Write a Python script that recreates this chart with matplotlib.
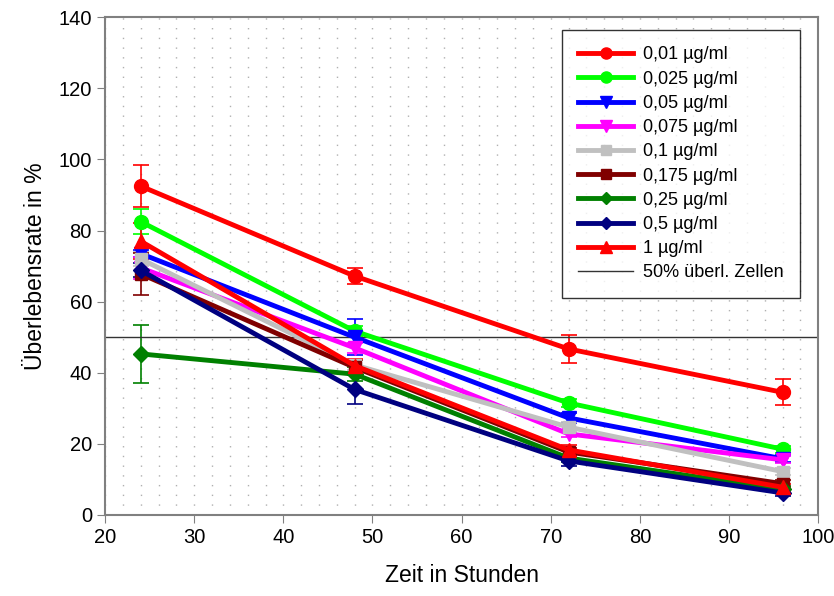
import matplotlib.pyplot as plt
import numpy as np
from matplotlib.lines import Line2D
from matplotlib.ticker import MultipleLocator

plt.rcParams['font.family'] = ['Liberation Sans', 'DejaVu Sans']

hours = [24, 48, 72, 96]

labels = ['0,01 µg/ml', '0,025 µg/ml', '0,05 µg/ml', '0,075 µg/ml', '0,1 µg/ml',
          '0,175 µg/ml', '0,25 µg/ml', '0,5 µg/ml', '1 µg/ml']

survival = [
    [92.5, 67.2, 46.7, 34.5],
    [82.5, 51.7, 31.5, 18.5],
    [73.5, 50.0, 27.3, 15.8],
    [69.5, 47.0, 22.8, 15.5],
    [72.0, 42.2, 24.7, 12.2],
    [67.8, 41.5, 17.7, 8.8],
    [45.3, 39.6, 16.0, 7.2],
    [68.8, 35.3, 15.2, 6.2],
    [77.0, 42.0, 18.3, 7.8],
]

errors = [
    [6.0, 2.2, 4.0, 3.7],
    [3.5, 1.5, 1.0, 1.0],
    [1.0, 5.0, 1.5, 1.0],
    [3.0, 1.5, 1.0, 1.0],
    [2.0, 1.5, 1.5, 1.0],
    [6.0, 2.0, 1.0, 1.0],
    [8.2, 2.0, 1.0, 1.0],
    [2.0, 4.0, 1.5, 1.0],
    [5.0, 2.0, 1.5, 1.0],
]

colors = ['#ff0000', '#00ff00', '#0000ff', '#ff00ff', '#c0c0c0',
          '#800000', '#008000', '#000080', '#ff0000']
markers = ['o', 'o', 'v', 'v', 's', 's', 'D', 'D', '^']
sizes = [10, 10, 10, 10, 9, 9, 8, 8, 10]

fig = plt.figure(figsize=(8.34, 5.96), dpi=100)
ax = fig.add_axes([0.126, 0.136, 0.855, 0.835])

handles = []
for y, e, c, m, s, lab in zip(survival, errors, colors, markers, sizes, labels):
    ax.errorbar(hours, y, yerr=e, color=c, marker=m, markersize=s, linewidth=3.5,
                elinewidth=1.2, capsize=6, capthick=1.2)
    handles.append(Line2D([], [], color=c, marker=m, markersize=s * 0.8,
                          linewidth=3.5, label=lab))

ax.axhline(50, color='#333333', linewidth=1)
handles.append(Line2D([], [], color='#333333', linewidth=1, label='50% überl. Zellen'))

ax.set_xlim(20, 100)
ax.set_ylim(0, 140)
ax.xaxis.set_major_locator(MultipleLocator(10))
ax.xaxis.set_minor_locator(MultipleLocator(2))
ax.yaxis.set_major_locator(MultipleLocator(20))
ax.grid(which='both', axis='x', color='#b0b0b0', linestyle=(0, (1, 6)), linewidth=1)
ax.tick_params(axis='both', which='major', direction='out', labelsize=14.5, length=6,
               color='#808080')
ax.tick_params(axis='x', which='minor', length=0)
for sp in ax.spines.values():
    sp.set_color('#808080')
    sp.set_linewidth(1.5)

ax.set_xlabel('Zeit in Stunden', fontsize=16.5, labelpad=12)
ax.set_ylabel('Überlebensrate in %', fontsize=16.5, labelpad=8)

leg = ax.legend(handles=handles, loc='upper right', bbox_to_anchor=(0.975, 0.974),
                borderaxespad=0, fontsize=13, frameon=True, fancybox=False,
                edgecolor='black', handlelength=3.0, labelspacing=0.4,
                borderpad=0.9, handletextpad=0.6)
leg.get_frame().set_linewidth(1)

fig.savefig('out.png', dpi=100)
